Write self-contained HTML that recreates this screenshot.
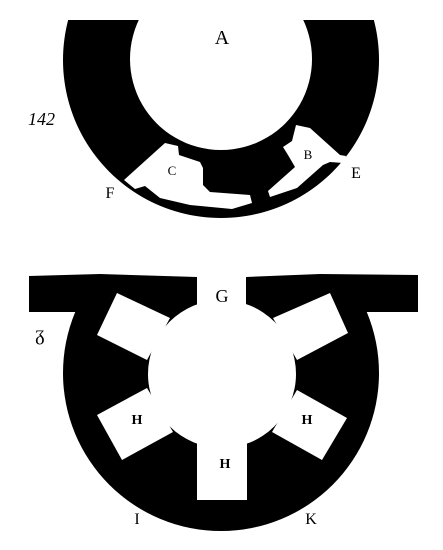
<!DOCTYPE html>
<html><head><meta charset="utf-8"><style>
html,body{margin:0;padding:0;background:#fff;width:443px;height:550px;overflow:hidden}
svg{display:block}
text{font-family:"Liberation Serif",serif;fill:#000}
</style></head><body>
<svg width="443" height="550" viewBox="0 0 443 550">
  <defs>
    <clipPath id="topclip"><rect x="0" y="20" width="443" height="220"/></clipPath>
    <clipPath id="botclip"><rect x="0" y="300" width="443" height="250"/></clipPath>
  </defs>
  <g>
    <path clip-path="url(#topclip)" fill-rule="evenodd" fill="#000"
      d="M221,-98 A158,158 0 1,0 221.01,-98 Z M221,-32 A91,91 0 1,0 221.01,-32 Z"/>
    <path fill="#fff"
      d="M124,180 L165,143 L178,146 L179,155 L200,162 L203,168 L203,185 L210,192 L250,195 L252,203 L232,209 L190,205 L160,198 L145,186 L135,189 Z"/>
    <path fill="#fff"
      d="M296,125 L310,128 L340,155 L346,156 L343,163 L330,162 L323,165 L297,188 L270,197 L268,191 L295,167 L288,155 L283,147 L292,141 Z"/>
    <text x="222" y="44" font-size="20" text-anchor="middle">A</text>
    <text x="28" y="125" font-size="18" font-style="italic">142</text>
    <text x="172" y="175" font-size="13" text-anchor="middle">C</text>
    <text x="308" y="159" font-size="13" text-anchor="middle">B</text>
    <text x="356" y="178" font-size="16" text-anchor="middle">E</text>
    <text x="110" y="198" font-size="16" text-anchor="middle">F</text>
  </g>
  <g>
    <path fill="#000" d="M29,276 L100,274 L197,277 L197,312 L29,312 Z"/>
    <path fill="#000" d="M246,277 L320,274 L418,275 L418,312 L246,312 Z"/>
    <circle clip-path="url(#botclip)" cx="221" cy="373" r="158" fill="#000"/>
    <rect x="197" y="270" width="49" height="50" fill="#fff"/>
    <circle cx="222" cy="374" r="74" fill="#fff"/>
    <polygon fill="#fff" points="117,293 170,318 147,360 97,335"/>
    <polygon fill="#fff" points="273,318 330,293 348,333 297,360"/>
    <polygon fill="#fff" points="97,415 147,388 173,432 122,460"/>
    <polygon fill="#fff" points="272,432 297,390 347,418 322,460"/>
    <rect x="197" y="443" width="50" height="57" fill="#fff"/>
    <text x="222" y="302" font-size="18" text-anchor="middle">G</text>
    <text x="40" y="340" font-size="20" text-anchor="middle">ᵹ</text>
    <text x="137" y="424" font-size="14" font-weight="bold" text-anchor="middle">H</text>
    <text x="307" y="424" font-size="14" font-weight="bold" text-anchor="middle">H</text>
    <text x="225" y="468" font-size="14" font-weight="bold" text-anchor="middle">H</text>
    <text x="137" y="524" font-size="16" text-anchor="middle">I</text>
    <text x="311" y="524" font-size="16" text-anchor="middle">K</text>
  </g>
</svg>
</body></html>
